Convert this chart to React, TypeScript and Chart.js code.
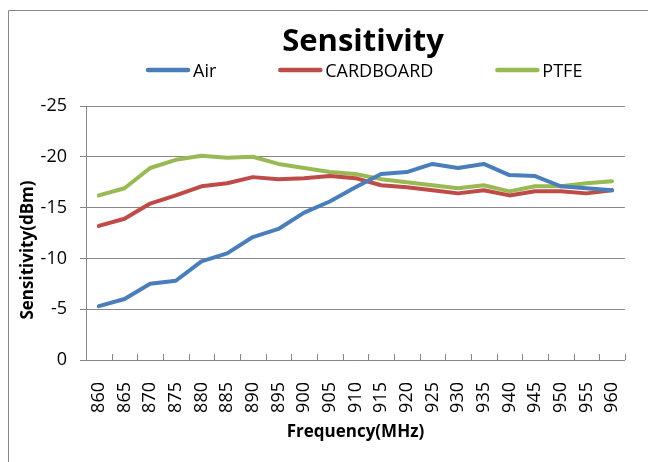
import React, { useEffect, useRef } from "react";
import { Chart, registerables } from "chart.js";

Chart.register(...registerables);

const frequencies: string[] = ["860","865","870","875","880","885","890","895","900","905","910","915","920","925","930","935","940","945","950","955","960"];
const airValues: number[] = [-5.3, -6.0, -7.5, -7.8, -9.7, -10.5, -12.1, -12.9, -14.5, -15.6, -17.0, -18.3, -18.5, -19.3, -18.9, -19.3, -18.2, -18.1, -17.1, -16.9, -16.7];
const cardboardValues: number[] = [-13.2, -13.9, -15.4, -16.2, -17.1, -17.4, -18.0, -17.8, -17.9, -18.1, -17.9, -17.2, -17.0, -16.7, -16.4, -16.7, -16.2, -16.6, -16.6, -16.4, -16.7];
const ptfeValues: number[] = [-16.2, -16.9, -18.9, -19.7, -20.1, -19.9, -20.0, -19.3, -18.9, -18.5, -18.3, -17.8, -17.5, -17.2, -16.9, -17.2, -16.6, -17.1, -17.1, -17.4, -17.6];
const seriesNames: string[] = ["Air", "CARDBOARD", "PTFE"];
const seriesColors: string[] = ["#4A7EBB", "#BE4B48", "#98B954"];
const titleText = "Sensitivity";
const xTitle = "Frequency(MHz)";
const yTitle = "Sensitivity(dBm)";

const FONT = "'Open Sans', sans-serif";
const GRID = "#868686";

const decorPlugin = {
  id: "decor",
  afterDraw(chart: any) {
    const ctx = chart.ctx as CanvasRenderingContext2D;
    const area = chart.chartArea;
    const xs = chart.scales.x;
    ctx.save();
    // outer border (top & left visible)
    ctx.strokeStyle = GRID;
    ctx.lineWidth = 1;
    ctx.beginPath();
    ctx.moveTo(8.5, 700);
    ctx.lineTo(8.5, 10.5);
    ctx.lineTo(900, 10.5);
    ctx.stroke();

    // inside tick marks on the category axis (category boundaries)
    const n = frequencies.length;
    const step = (area.right - area.left) / n;
    ctx.strokeStyle = GRID;
    ctx.beginPath();
    for (let i = 0; i <= n; i++) {
      const x = Math.round(xs.left + i * step) + 0.5;
      ctx.moveTo(x, area.bottom);
      ctx.lineTo(x, area.bottom - 6);
    }
    ctx.stroke();

    // title
    ctx.fillStyle = "#000";
    ctx.font = `bold 31px ${FONT}`;
    ctx.textAlign = "center";
    ctx.textBaseline = "alphabetic";
    ctx.fillText(titleText, 363, 51);

    // legend
    ctx.font = `18px ${FONT}`;
    ctx.textAlign = "left";
    let lx = 146;
    const ly = 70;
    chart.data.datasets.forEach((ds: any, i: number) => {
      ctx.strokeStyle = ds.borderColor;
      ctx.lineWidth = 4.5;
      ctx.lineCap = "round";
      ctx.beginPath();
      ctx.moveTo(lx + 2, ly);
      ctx.lineTo(lx + 42, ly);
      ctx.stroke();
      ctx.fillStyle = "#000";
      ctx.fillText(ds.label, lx + 47, 77);
      lx += 47 + ctx.measureText(ds.label).width + 62;
    });

    // axis titles
    ctx.font = `bold 17px ${FONT}`;
    ctx.textAlign = "center";
    ctx.fillStyle = "#000";
    ctx.fillText(xTitle, (area.left + area.right) / 2, 437);
    ctx.translate(33, 250);
    ctx.rotate(-Math.PI / 2);
    ctx.fillText(yTitle, 0, 0);
    ctx.restore();
  },
};

export default function App() {
  const ref = useRef<HTMLCanvasElement | null>(null);
  useEffect(() => {
    if (!ref.current) return;
    const values = [airValues, cardboardValues, ptfeValues];
    const chart = new Chart(ref.current, {
      type: "line",
      data: {
        labels: frequencies,
        datasets: values.map((v, i) => ({
          label: seriesNames[i],
          data: v,
          borderColor: seriesColors[i],
          backgroundColor: seriesColors[i],
          borderWidth: 4,
          pointRadius: 0,
          tension: 0,
          borderJoinStyle: "round" as const,
          borderCapStyle: "round" as const,
        })),
      },
      options: {
        responsive: false,
        animation: false,
        devicePixelRatio: 1,
        layout: { padding: { left: 0, top: 106, right: 15, bottom: 0 } },
        plugins: {
          legend: { display: false },
          title: { display: false },
          tooltip: { enabled: false },
        },
        scales: {
          x: {
            offset: true,
            grid: { display: false, offset: true },
            border: { display: true, color: GRID, width: 1 },
            ticks: {
              minRotation: 90,
              maxRotation: 90,
              autoSkip: false,
              padding: 14,
              color: "#000",
              font: { family: FONT, size: 18 },
            },
            afterFit: (s: any) => { s.height = 102; },
          },
          y: {
            reverse: true,
            min: -25,
            max: 0,
            ticks: {
              stepSize: 5,
              padding: 13,
              color: "#000",
              font: { family: FONT, size: 18 },
            },
            grid: { color: GRID, lineWidth: 1, drawTicks: true, tickLength: 6, tickColor: GRID },
            border: { display: true, color: GRID, width: 1 },
            afterFit: (s: any) => { s.width = 86; },
          },
        },
      },
      plugins: [decorPlugin],
    });
    return () => chart.destroy();
  }, []);
  return (
    <div style={{ position: "fixed", left: 0, top: 0, width: 648, height: 462, background: "#fff" }}>
      <canvas ref={ref} width={648} height={462} style={{ width: 648, height: 462, display: "block" }} />
    </div>
  );
}
